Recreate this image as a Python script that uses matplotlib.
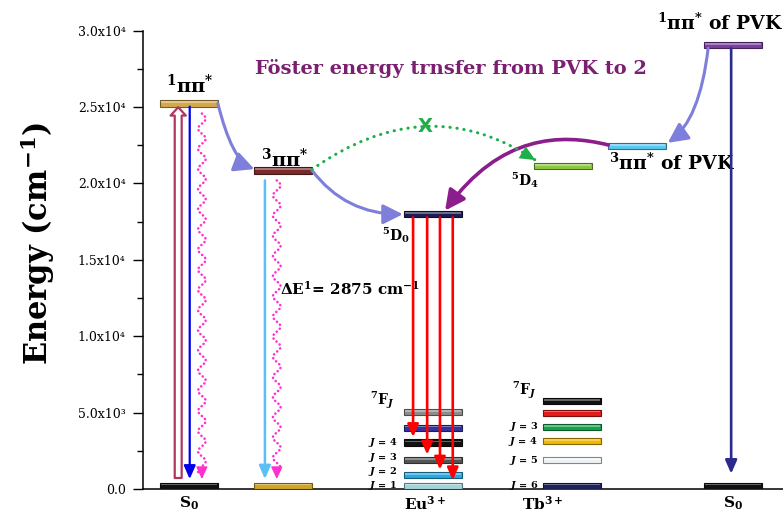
"""
Energy-level diagram for ligand 2 in a PVK host, sensitising Eu(III) and Tb(III).

Ligand singlet/triplet levels, the PVK singlet/triplet levels and the lanthanide
emitting / ground-state manifolds are drawn as bars; radiative, non-radiative and
energy-transfer paths are drawn as arrows.
"""

import numpy as np
import matplotlib
matplotlib.use("Agg")
import matplotlib.pyplot as plt
import matplotlib.colors as mcolors
from matplotlib.patches import Rectangle, FancyArrowPatch
from matplotlib.path import Path
from matplotlib.ticker import MultipleLocator, FuncFormatter

plt.rcParams["font.family"] = "DejaVu Serif"
plt.rcParams["mathtext.fontset"] = "custom"
plt.rcParams["mathtext.rm"] = "DejaVu Serif:bold"
plt.rcParams["mathtext.it"] = "DejaVu Serif:bold:italic"
plt.rcParams["mathtext.bf"] = "DejaVu Serif:bold"

# ── Level energies (cm^-1, lower edge of each bar) ────────────────────────────

E_S0     = 0
E_S1     = 25030            # 1ππ* of ligand 2
E_T1     = 20650            # 3ππ* of ligand 2
DE_T1_D0 = 2875             # ΔE between 3ππ* and Eu 5D0
E_EU_5D0 = E_T1 - DE_T1_D0
E_TB_5D4 = 20930
E_PVK_S1 = 28850
E_PVK_T1 = 22240

eu_j      = [1, 2, 3, 4, 5, 6]
eu_7f     = [0, 700, 1680, 2830, 3800, 4840]
eu_colors = ["#a3d4d9", "#27a9e1", "#555555", "#111111", "#34349c", "#8c8c8c"]
eu_labelled = [1, 2, 3, 4]

tb_j      = [6, 5, 4, 3, 2, 1]
tb_7f     = [0, 1680, 2930, 3860, 4780, 5560]
tb_colors = ["#1f2357", "#eef2f4", "#f2b900", "#17a24f", "#e41c1c", "#111111"]
tb_labelled = [3, 4, 5, 6]

group_labels = [r"S$_0$", r"Eu$^{3+}$", r"Tb$^{3+}$", r"S$_0$"]
dE_label = r"$\Delta$E$^{1}$= " + f"{DE_T1_D0}" + r" cm$^{-1}$"
PIPI = r"$^{%d}\mathrm{\pi\pi}^{*}$"

# ── Layout (x in arbitrary column units) ──────────────────────────────────────

BAR_W = 0.9
BAR_H = 420
X_LIG   = 0.27
X_T1    = 1.74
X_EU    = 4.08
X_5D4   = 6.11
X_TB    = 6.25
X_PVKT  = 7.27
X_PVKS  = 8.77
group_x = [0.72, 4.41, 6.25, 9.22]
J_GAP   = 930               # min vertical spacing of J labels

SLATE  = "#7e7edb"
PURPLE = "#8c1d8c"
GREEN  = "#1fae4a"
MAGENTA = "#ff2fd0"
TITLE_C = "#7b1f70"


def shade(color, f):
    r, g, b = mcolors.to_rgb(color)
    if f < 1:
        return (r * f, g * f, b * f)
    return (r + (1 - r) * (f - 1), g + (1 - g) * (f - 1), b + (1 - b) * (f - 1))


def level(ax, x, e, color):
    """Bevelled bar for one energy level."""
    ax.add_patch(Rectangle((x, e), BAR_W, BAR_H, facecolor=color,
                           edgecolor=shade(color, 0.55), lw=0.8, zorder=3))
    ax.add_patch(Rectangle((x + 0.01, e + BAR_H * 0.55), BAR_W - 0.02, BAR_H * 0.25,
                           facecolor=shade(color, 1.35), lw=0, zorder=3.1))


def spread(ys, gap):
    """Push label positions upward so neighbours stay at least `gap` apart."""
    out = []
    for y in sorted(ys):
        out.append(max(y, out[-1] + gap) if out else y)
    return out


def straight_arrow(ax, x, e_from, e_to, color, lw=1.8, scale=10, hl=0.8, hw=0.35):
    ax.add_patch(FancyArrowPatch((x, e_from), (x, e_to),
                                 arrowstyle=f"-|>,head_length={hl},head_width={hw}",
                                 mutation_scale=scale, color=color, lw=lw,
                                 shrinkA=0, shrinkB=0, zorder=4))


def wavy_arrow(ax, x, e_top, e_bot, color, amp=0.06, period=1320):
    e = np.linspace(e_top, e_bot + 300, 800)
    xs = x + amp * np.sin(2 * np.pi * (e_top - e) / period)
    ax.plot(xs, e, color=color, lw=1.8, ls=(0, (0.1, 1.6)),
            dash_capstyle="round", zorder=4)
    ax.add_patch(FancyArrowPatch((x, e_bot + 500), (x, e_bot),
                                 arrowstyle="-|>,head_length=0.75,head_width=0.35",
                                 mutation_scale=10, color=color, lw=1.0,
                                 shrinkA=0, shrinkB=0, zorder=4))


def bezier(pts, t):
    n = len(pts) - 1
    p = np.asarray(pts, float)
    coef = [1, 2, 1] if n == 2 else [1, 3, 3, 1]
    return sum(c * (1 - t) ** (n - i) * t ** i * p[i] for i, c in enumerate(coef))


def curve_arrow(ax, pts, color, lw=2.2, ls="-", scale=12, hl=1.0, hw=0.5):
    codes = [Path.MOVETO] + [Path.CURVE3 if len(pts) == 3 else Path.CURVE4] * (len(pts) - 1)
    if ls == "-":
        ax.add_patch(FancyArrowPatch(path=Path(pts, codes),
                                     arrowstyle=f"-|>,head_length={hl},head_width={hw}",
                                     mutation_scale=scale, color=color, lw=lw,
                                     zorder=5))
        return
    # dotted body, solid head
    ax.add_patch(FancyArrowPatch(path=Path(pts, codes), arrowstyle="-",
                                 color=color, lw=lw, ls=ls, capstyle="round",
                                 zorder=5))
    ax.add_patch(FancyArrowPatch(tuple(bezier(pts, 0.9)), tuple(pts[-1]),
                                 arrowstyle=f"-|>,head_length={hl},head_width={hw}",
                                 mutation_scale=scale, color=color, lw=0.01,
                                 shrinkA=0, shrinkB=0, zorder=5))


SUP = str.maketrans("0123456789", "⁰¹²³⁴⁵⁶⁷⁸⁹")


def sci_fmt(v, pos):
    if v <= 0:
        return "0.0"
    exp = int(np.floor(np.log10(v)))
    return f"{v / 10 ** exp:.1f}x10" + str(exp).translate(SUP)


# ── Figure ────────────────────────────────────────────────────────────────────

fig = plt.figure(figsize=(7.83, 5.15), dpi=100)
ax = fig.add_axes([143 / 783, 26 / 515, 640 / 783, 458.3 / 515])
ax.set_xlim(0, 10)
ax.set_ylim(0, 30000)

for s in ("top", "right"):
    ax.spines[s].set_visible(False)
for s in ("left", "bottom"):
    ax.spines[s].set_linewidth(1.1)

ax.yaxis.set_major_locator(MultipleLocator(5000))
ax.yaxis.set_minor_locator(MultipleLocator(2500))
ax.yaxis.set_major_formatter(FuncFormatter(sci_fmt))
ax.tick_params(axis="y", which="major", length=7, width=1.0, pad=5.5, labelsize=9)
ax.tick_params(axis="y", which="minor", length=4, width=1.0)
ax.set_xticks(group_x, group_labels)
ax.tick_params(axis="x", length=0, pad=4, labelsize=11)
for t in ax.get_xticklabels():
    t.set_fontweight("bold")

fig.text(38 / 783, 1 - 243 / 515, r"Energy (cm$^{-1}$)", rotation=90,
         ha="center", va="center", fontsize=22, fontweight="bold")

# ligand 2 levels
level(ax, X_LIG, E_S0, "#111111")
level(ax, X_LIG, E_S1, "#d4a84b")
level(ax, X_T1, E_T1, "#7a2a2a")
level(ax, X_T1, E_S0, "#cfa427")

# Eu3+ / Tb3+ levels and their J labels
level(ax, X_EU, E_EU_5D0, "#1c1c50")
level(ax, X_5D4, E_TB_5D4, "#8cc63f")
for x_bar, js, energies, colors, labelled, dx in [
        (X_EU, eu_j, eu_7f, eu_colors, eu_labelled, 0.11),
        (X_TB, tb_j, tb_7f, tb_colors, tb_labelled, 0.08)]:
    for e, c in zip(energies, colors):
        level(ax, x_bar, e, c)
    lab = sorted((e, j) for j, e in zip(js, energies) if j in labelled)
    ys = spread([e + BAR_H / 2 for e, _ in lab], J_GAP)
    for y, (_, j) in zip(ys, lab):
        ax.text(x_bar - dx, y, rf"$J$ = {j}", ha="right", va="center",
                fontsize=7, fontweight="bold")

# PVK levels
level(ax, X_PVKS, E_PVK_S1, "#7b3fa0")
level(ax, X_PVKS, E_S0, "#111111")
level(ax, X_PVKT, E_PVK_T1, "#5bc8f0")

# absorption (hollow), fluorescence and non-radiative decay of ligand
ax.add_patch(FancyArrowPatch((0.55, 720), (0.55, E_S1 - 40),
                             arrowstyle="simple,head_length=0.6,head_width=1.1,tail_width=0.5",
                             mutation_scale=10, facecolor="white", edgecolor="#b0365f",
                             lw=1.6, shrinkA=0, shrinkB=0, zorder=4))
straight_arrow(ax, 0.73, E_S1, 650, "#0000ee", lw=1.6)
wavy_arrow(ax, 0.92, E_S1 - 450, 650, MAGENTA)

# phosphorescence and non-radiative decay from 3ππ*
straight_arrow(ax, 1.905, E_T1 - 450, 650, "#5cc0f7", lw=1.8)
wavy_arrow(ax, 2.09, E_T1 - 450, 650, MAGENTA)

# Eu3+ 5D0 -> 7FJ emission
for x, j in zip([4.22, 4.44, 4.64, 4.84], [4, 3, 2, 1]):
    e_end = eu_7f[eu_j.index(j)] + BAR_H + 150
    straight_arrow(ax, x, E_EU_5D0, e_end, "#ff0000", lw=1.9, scale=10, hl=0.75, hw=0.33)

# PVK emission
straight_arrow(ax, 9.19, E_PVK_S1, 1000, "#2b2b8c", lw=1.9)

# intersystem crossing and energy transfer
curve_arrow(ax, [(X_LIG + BAR_W, E_S1 + BAR_H / 2), (1.39, 21500),
                 (X_T1, E_T1 + BAR_H / 2 + 80)], SLATE)
curve_arrow(ax, [(X_T1 + BAR_W, E_T1 + BAR_H / 2), (3.16, E_EU_5D0 + BAR_H / 2),
                 (X_EU - 0.02, E_EU_5D0 + BAR_H / 2)], SLATE)
curve_arrow(ax, [(X_PVKS + 0.06, E_PVK_S1), (8.70, 24150),
                 (X_PVKT + BAR_W + 0.03, E_PVK_T1 + BAR_H)], SLATE)
curve_arrow(ax, [(X_PVKT, E_PVK_T1 + BAR_H / 2 + 70), (6.52, 23300), (5.58, 23170),
                 (4.72, E_EU_5D0 + BAR_H + 30)], PURPLE, lw=2.6)

# blocked transfer 3ππ* -> 5D4
green_pts = [(X_T1 + BAR_W, E_T1 + BAR_H / 2 + 60), (4.44, 26250),
             (X_5D4 + 0.02, E_TB_5D4 + BAR_H + 180)]
curve_arrow(ax, green_pts, GREEN, lw=2.2, ls=(0, (0.1, 2.2)), scale=10, hl=1.1, hw=0.5)
mid_x, mid_y = bezier(green_pts, 0.5)
ax.text(mid_x, mid_y, "X", color=GREEN, fontsize=14, fontweight="bold",
        family="DejaVu Sans", ha="center", va="center", zorder=6)

# level labels
ax.text(0.73, E_S1 + 890, PIPI % 1, ha="center", va="baseline", fontsize=14)
ax.text(2.22, E_T1 + 430, PIPI % 3, ha="center", va="baseline", fontsize=14)
ax.text(3.95, E_EU_5D0 - 1500, r"$^{5}$D$_{0}$", ha="center", va="baseline",
        fontsize=10, fontweight="bold")
ax.text(5.97, E_TB_5D4 - 1050, r"$^{5}$D$_{4}$", ha="center", va="baseline",
        fontsize=10, fontweight="bold")
ax.text(X_PVKT + 0.01, E_PVK_T1 - 1360, PIPI % 3 + " of PVK", ha="left",
        va="baseline", fontsize=13.5, fontweight="bold")
ax.text(8.03, E_PVK_S1 + 1200, PIPI % 1 + " of PVK", ha="left",
        va="baseline", fontsize=13.5, fontweight="bold", clip_on=False)
ax.text(3.55, 5500, r"$^{7}$F$_{J}$", ha="left", va="baseline", fontsize=10,
        fontweight="bold")
ax.text(5.77, 6150, r"$^{7}$F$_{J}$", ha="left", va="baseline", fontsize=10,
        fontweight="bold")
ax.text(2.14, 12700, dE_label, ha="left", va="baseline", fontsize=11,
        fontweight="bold")
ax.text(4.81, 27165, "Föster energy trnsfer from PVK to 2", color=TITLE_C,
        ha="center", va="baseline", fontsize=14, fontweight="bold")

fig.savefig("out.png", dpi=100)
